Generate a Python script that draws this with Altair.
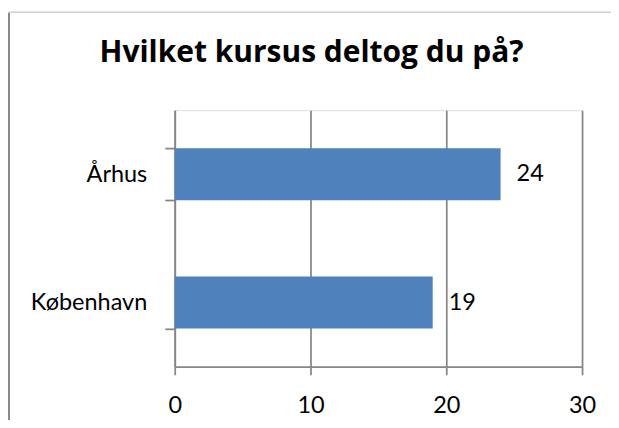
import altair as alt
import pandas as pd

categories = ["Århus", "København"]
values = [24, 19]
x_ticks = [0, 10, 20, 30]
title_text = "Hvilket kursus deltog du på?"

df = pd.DataFrame({"kursus": categories, "antal": values})

FONT = "Lato"
GRAY = "#878787"
FS = 23.5

base = alt.Chart(df)

bars = base.mark_bar(color="#4F81BD").encode(
    x=alt.X("antal:Q",
            scale=alt.Scale(domain=[0, 30], nice=False),
            axis=alt.Axis(values=x_ticks, title=None, grid=True, gridColor=GRAY,
                          gridWidth=1.75, domainColor=GRAY, domainWidth=1.75,
                          tickColor=GRAY, tickWidth=1.75, tickSize=8,
                          labelFontSize=FS, labelFont=FONT, labelColor="#000000",
                          labelPadding=19, labelFlush=False)),
    y=alt.Y("kursus:N", sort=categories,
            scale=alt.Scale(paddingInner=0.595, paddingOuter=0.2975),
            axis=alt.Axis(title=None, tickBand="extent", domainColor=GRAY,
                          domainWidth=1.75, tickColor=GRAY, tickWidth=1.75,
                          tickSize=10, labelFontSize=FS, labelFont=FONT,
                          labelColor="#000000", labelPadding=18)),
)

labels = base.mark_text(align="left", baseline="middle", dx=16, fontSize=FS,
                        font=FONT, color="#000000").encode(
    x="antal:Q",
    y=alt.Y("kursus:N", sort=categories),
    text="antal:Q",
)

one = pd.DataFrame({"t": [title_text]})

title = alt.Chart(one).mark_text(
    font="Open Sans", fontSize=30, fontWeight="bold", color="#000000",
    align="center", baseline="alphabetic").encode(
    text="t:N", x=alt.value(137), y=alt.value(-48))

frame_left = alt.Chart(one).mark_rule(
    color="#8a8a8a", strokeWidth=2).encode(
    x=alt.value(-166), y=alt.value(-98), y2=alt.value(320))
frame_top = alt.Chart(one).mark_rule(
    color="#d0d0d0", strokeWidth=1.5).encode(
    x=alt.value(-167), x2=alt.value(440), y=alt.value(-98))

chart = alt.layer(frame_left, frame_top, bars, labels, title).properties(
    width=408, height=257,
    padding={"left": 167, "top": 102, "right": 29, "bottom": 53},
    autosize=alt.AutoSizeParams(type="none"),
).configure_view(stroke=None).configure(background="white")

chart.save("out.html", embed_options={"renderer": "svg", "actions": False})
